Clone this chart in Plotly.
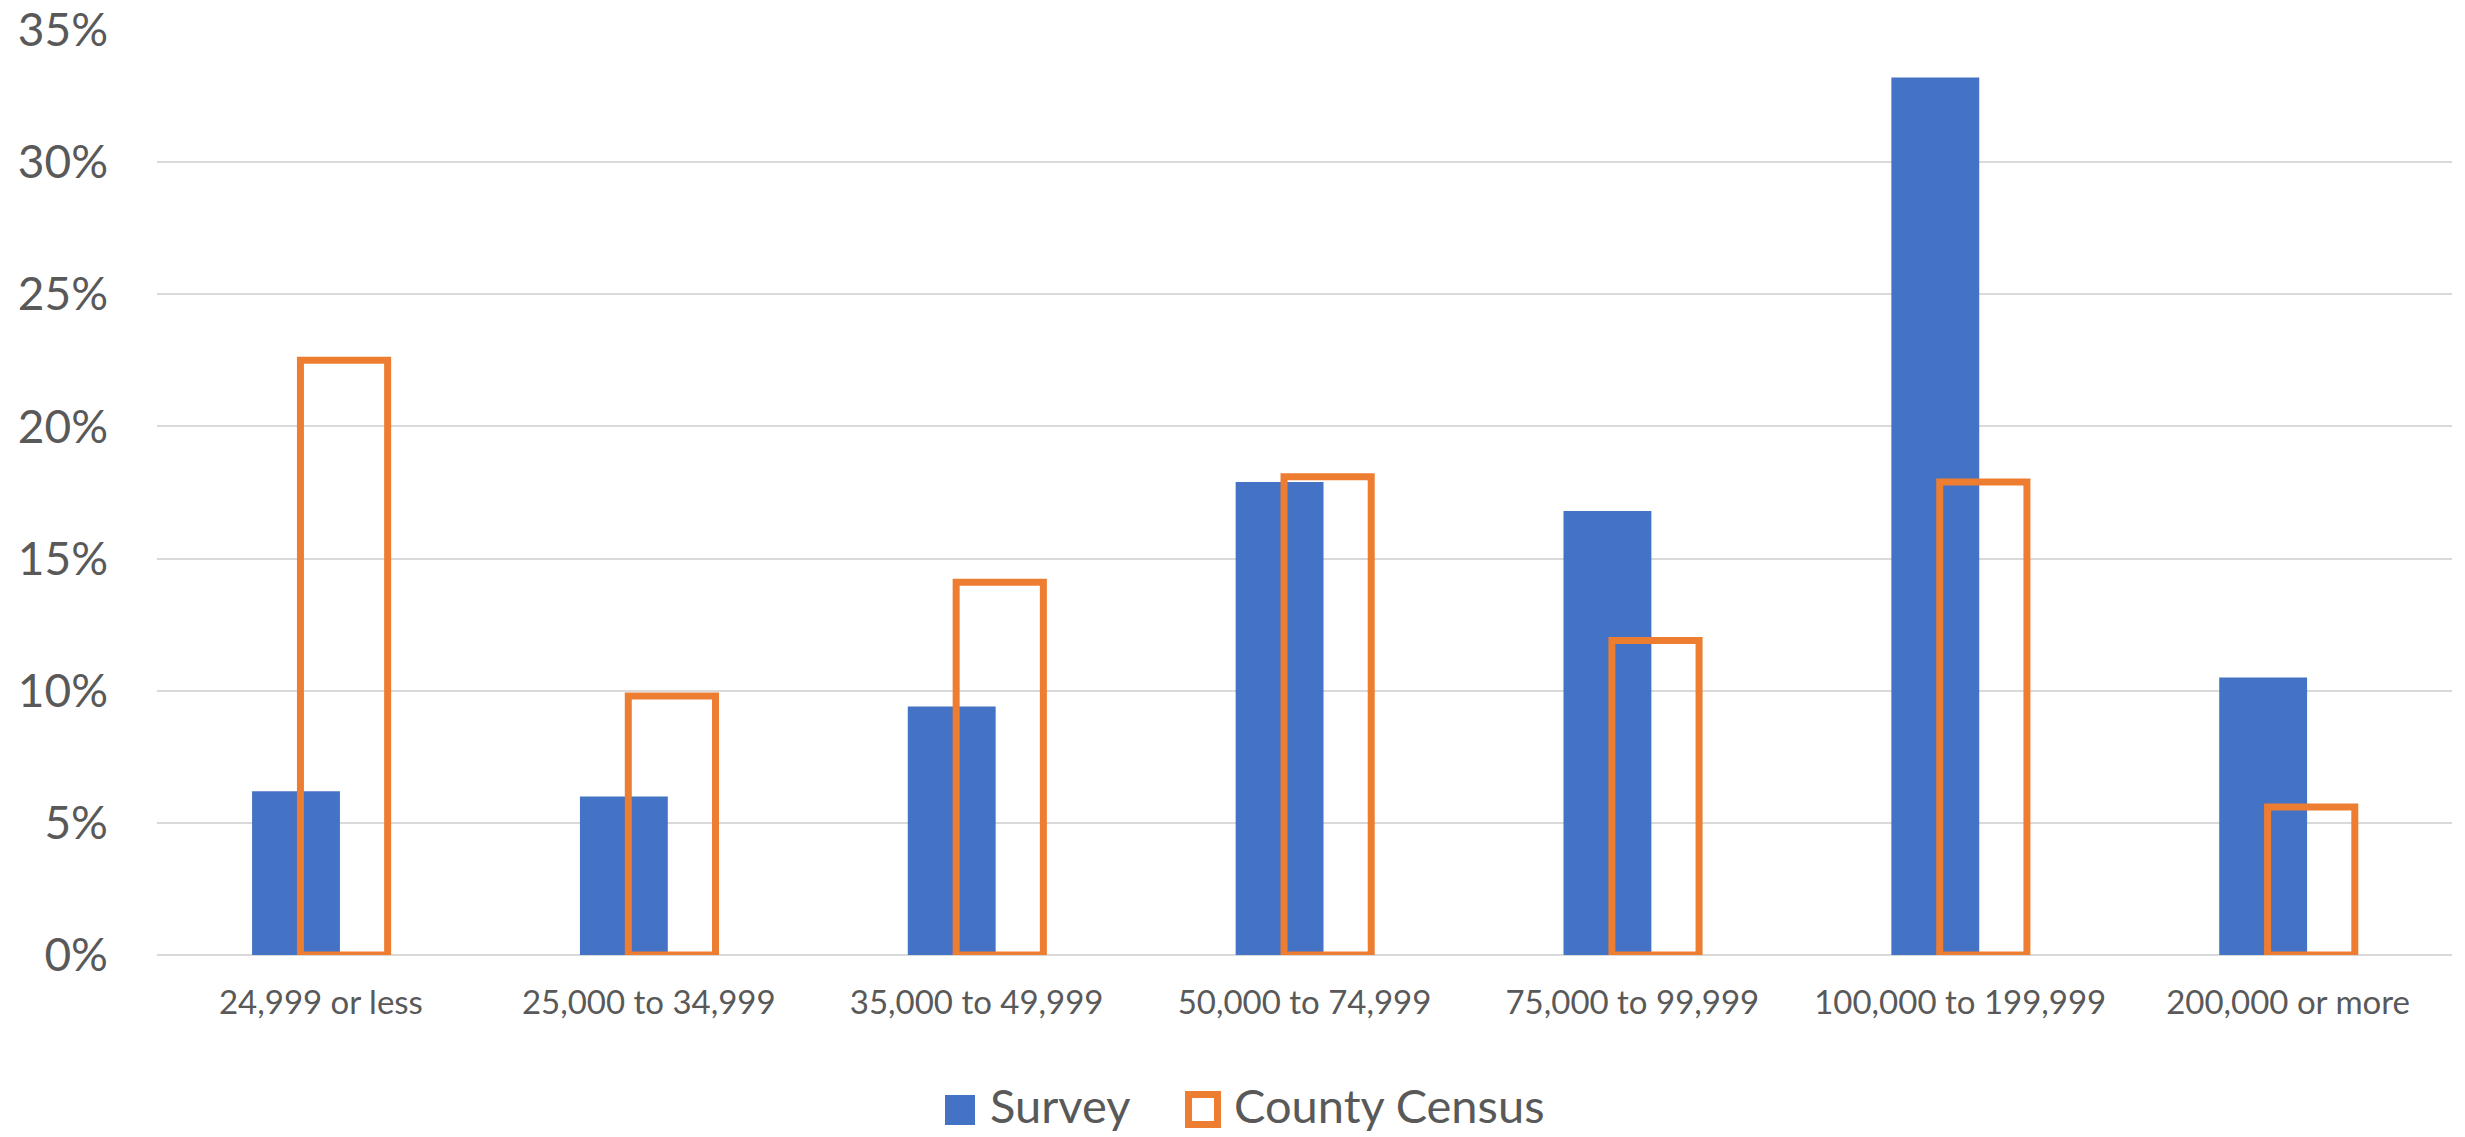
import plotly.graph_objects as go

# ---- data ----
categories = ["24,999 or less", "25,000 to 34,999", "35,000 to 49,999",
              "50,000 to 74,999", "75,000 to 99,999", "100,000 to 199,999",
              "200,000 or more"]
survey = [6.2, 6.0, 9.4, 17.9, 16.8, 33.2, 10.5]
county_census = [22.5, 9.8, 14.1, 18.1, 11.9, 17.9, 5.6]
series_names = ["Survey", "County Census"]
y_ticks = [0, 5, 10, 15, 20, 25, 30, 35]
y_tick_labels = [f"{v}%" for v in y_ticks]

# ---- style ----
W, H = 2465, 1137
ML, MR, MT, MB = 157, 13, 30, 182
BLUE = "#4472C4"
ORANGE = "#ED7D31"
TEXT = "#595959"
GRID = "#D9D9D9"
FONT = "Lato"

fig = go.Figure()
fig.add_trace(go.Bar(
    x=categories, y=survey, name=series_names[0],
    marker=dict(color=BLUE, line=dict(width=0)),
    width=0.268, offset=-0.21, showlegend=False,
))
fig.add_trace(go.Bar(
    x=categories, y=county_census, name=series_names[1],
    marker=dict(color="rgba(0,0,0,0)", line=dict(color=ORANGE, width=7)),
    width=0.266, offset=-0.0625, showlegend=False, cliponaxis=False,
))

# custom legend (pixel positions converted to paper coords)
pw = W - ML - MR
ph = H - MT - MB
def px(p):
    return (p - ML) / pw
def py(p):
    return (H - MB - p) / ph

shapes = [
    dict(type="rect", xref="paper", yref="paper",
         x0=px(945), x1=px(975), y0=py(1125), y1=py(1095),
         fillcolor=BLUE, line=dict(width=0)),
    dict(type="rect", xref="paper", yref="paper",
         x0=px(1188.5), x1=px(1217.5), y0=py(1124.5), y1=py(1094.5),
         fillcolor="white", line=dict(color=ORANGE, width=7)),
]
annotations = [
    dict(text=series_names[0], xref="paper", yref="paper",
         x=px(988), y=py(1105), xanchor="left", yanchor="middle",
         showarrow=False, font=dict(family=FONT, size=47, color=TEXT)),
    dict(text=series_names[1], xref="paper", yref="paper",
         x=px(1232), y=py(1105), xanchor="left", yanchor="middle",
         showarrow=False, font=dict(family=FONT, size=47, color=TEXT)),
]

fig.update_layout(
    width=W, height=H, autosize=False,
    margin=dict(l=ML, r=MR, t=MT, b=MB, pad=0),
    paper_bgcolor="white", plot_bgcolor="white",
    barmode="overlay",
    shapes=shapes, annotations=annotations,
    font=dict(family=FONT, color=TEXT),
)
fig.update_xaxes(
    type="category", showgrid=False, showline=False, zeroline=False,
    ticks="", tickfont=dict(family=FONT, size=33, color=TEXT),
    ticklabelstandoff=25, automargin=False,
)
fig.update_yaxes(
    range=[0, 35], tickvals=y_ticks, ticktext=y_tick_labels,
    showgrid=True, gridcolor=GRID, gridwidth=2,
    zeroline=True, zerolinecolor=GRID, zerolinewidth=2,
    showline=False, ticks="",
    tickfont=dict(family=FONT, size=46, color=TEXT),
    ticklabelstandoff=48, automargin=False,
)

fig.write_html(
    "out.html",
    config={"displayModeBar": False},
    post_script="document.body.style.margin='0';document.body.style.overflow='hidden';",
)
